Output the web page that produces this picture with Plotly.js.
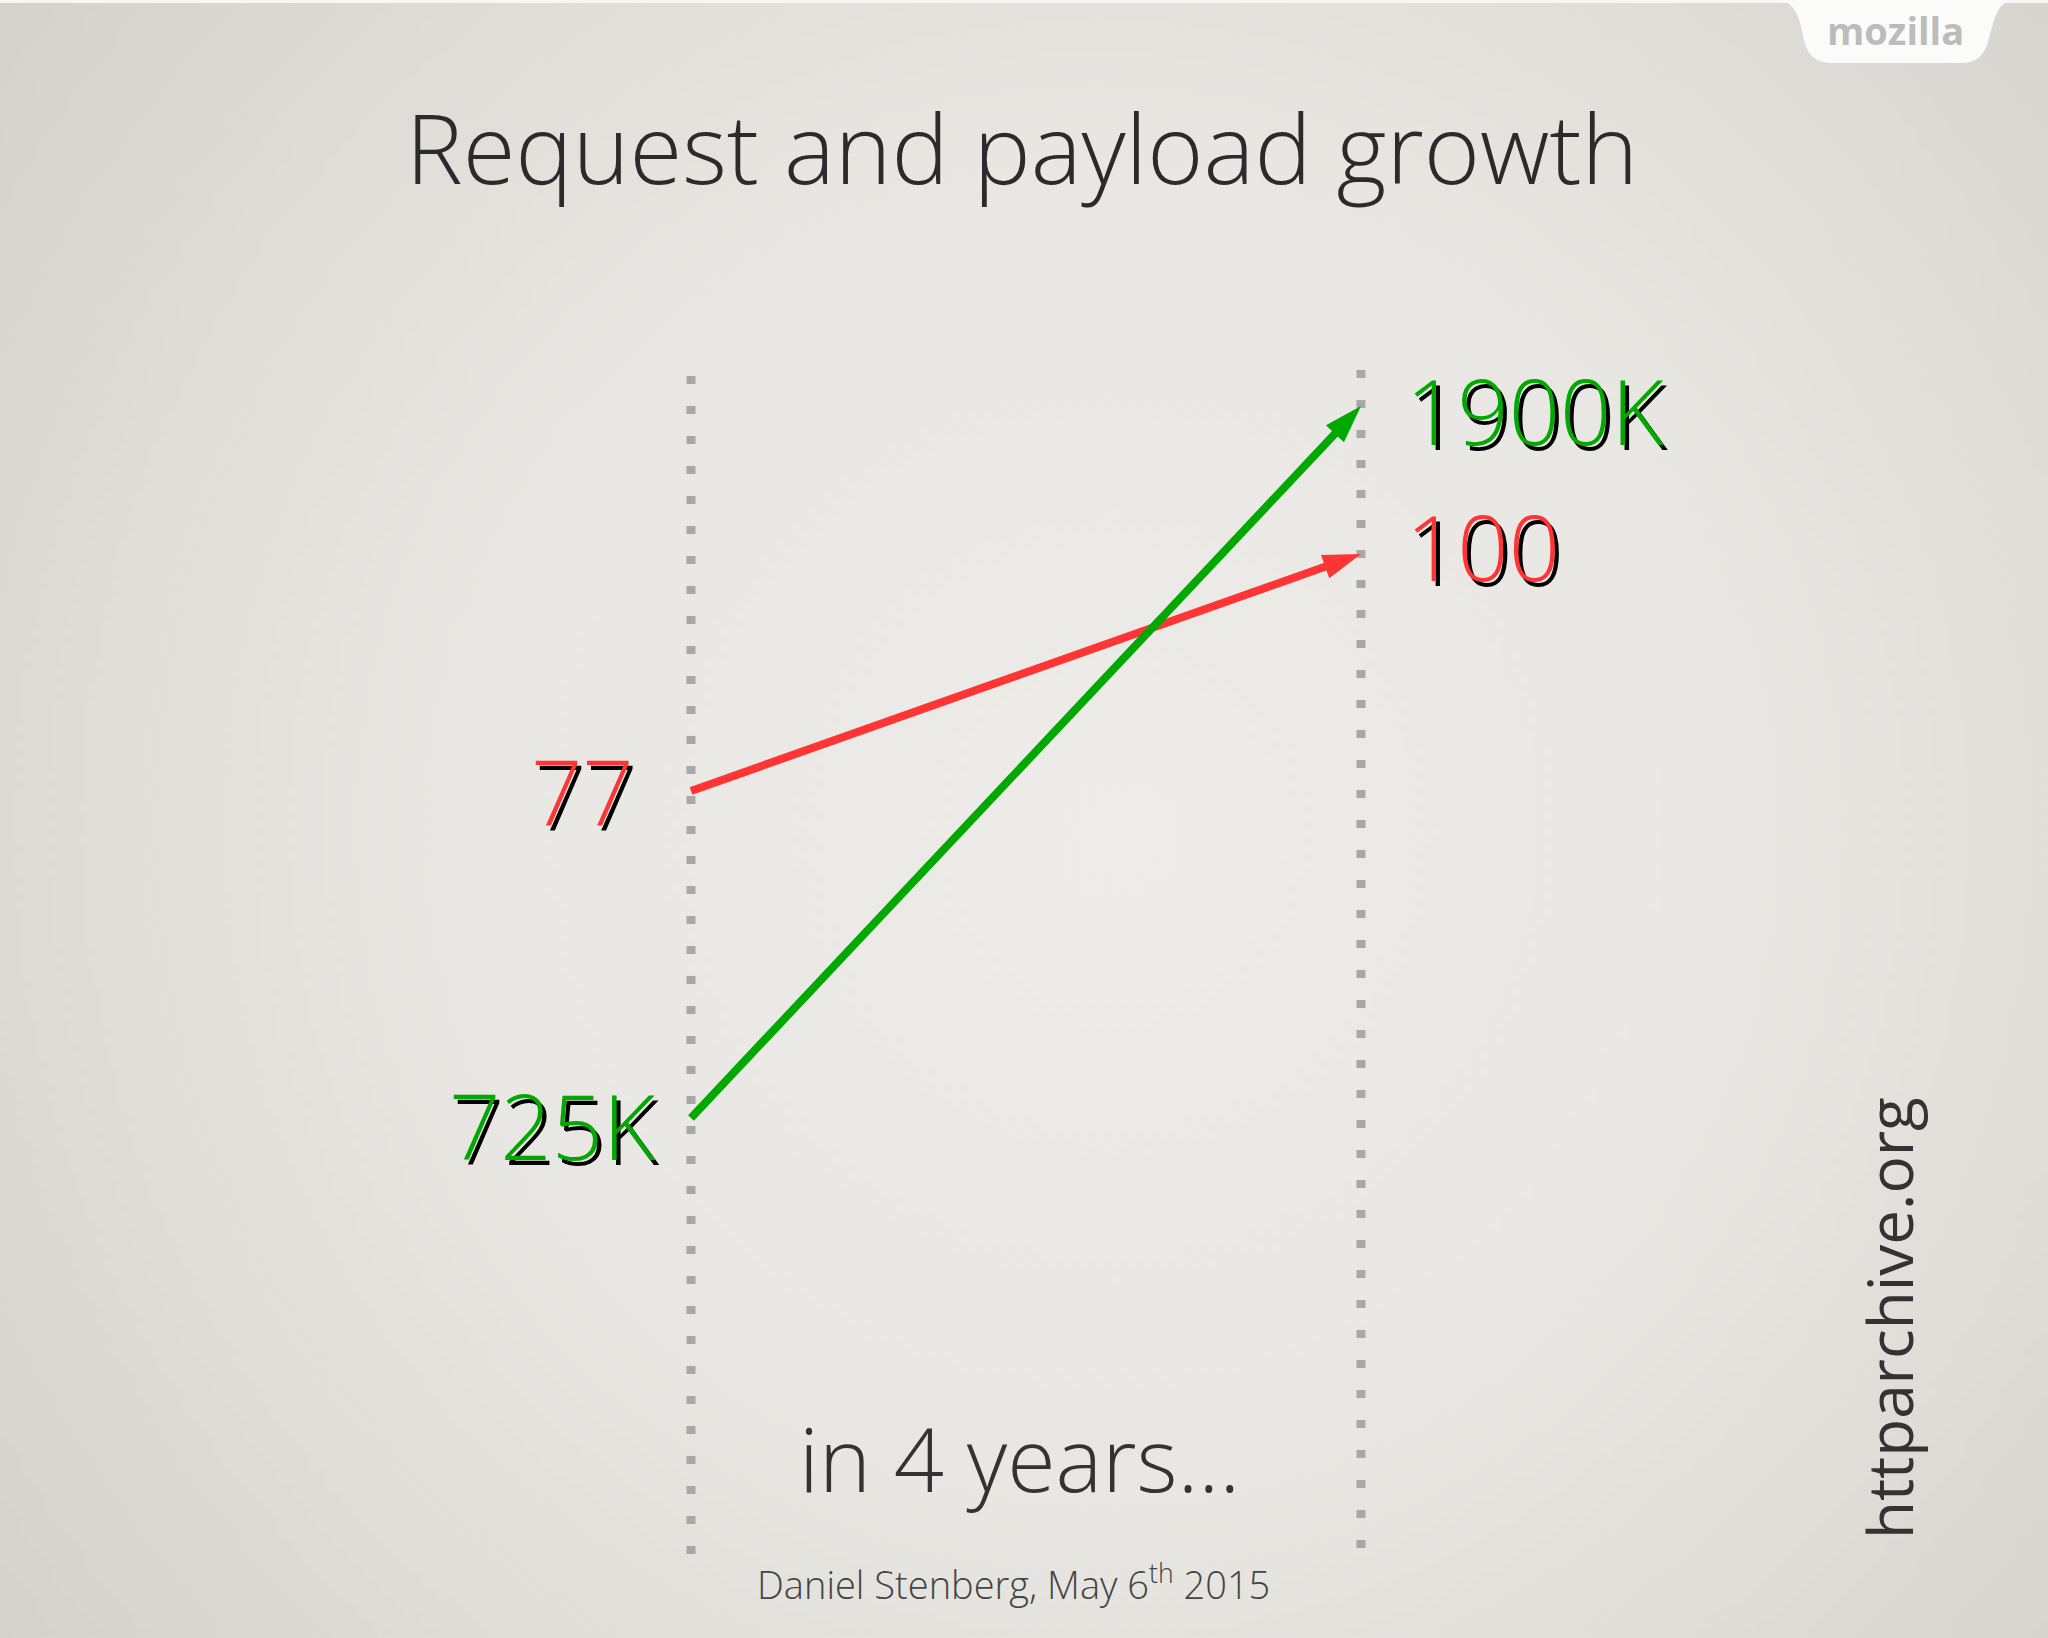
<!DOCTYPE html>
<html><head><meta charset="utf-8">
<script src="https://cdn.plot.ly/plotly-3.0.1.min.js"></script>
<style>html,body{margin:0;padding:0;background:#e3e1dc;overflow:hidden}#chart{width:2048px;height:1638px;}</style>
</head><body><div id="chart"></div>
<script>
// ---- data ----
const years = [0, 4];
const requests = [77, 100];
const payloadK = [725, 1900];
const requestLabels = ['77', '100'];
const payloadLabels = ['725K', '1900K'];
const titleText = 'Request and payload growth';
const subtitleText = 'in 4 years...';
const creditText = 'Daniel Stenberg, May 6<sup>th</sup> 2015';
const sourceText = 'httparchive.org';
const brandText = 'mozilla';

// ---- styling / geometry ----
const W = 2048, H = 1638;
const RED = '#ff3434', GREEN = '#00a800';
const FONT = 'Open Sans, sans-serif';
const px = x => x / W, py = y => 1 - y / H;
// x axis: 0..4 years maps to pixels 691..1361; pad the range so edge lines are not clipped
const X0 = 691, X1 = 1361, XPAD = 0.3;
const pxPerYear = (X1 - X0) / (years[1] - years[0]);

function bgImage() {
  const c = document.createElement('canvas');
  c.width = 512; c.height = 410;
  const g = c.getContext('2d');
  const grad = g.createRadialGradient(280, 210, 10, 270, 205, 360);
  grad.addColorStop(0, '#eeece9');
  grad.addColorStop(0.45, '#e9e7e3');
  grad.addColorStop(1, '#d3d0ca');
  g.fillStyle = grad;
  g.fillRect(0, 0, 512, 410);
  return c.toDataURL('image/png');
}

function pathPx(cmds) {
  return cmds.map(c => c[0] + c.slice(1).map((v, i) => (i % 2 === 0 ? px(v) : py(v)).toFixed(5)).join(',')).join(' ');
}

const arrowMarker = (color) => ({ symbol: ['circle', 'arrow'], size: [0, 40], angleref: 'previous',
                                  color, opacity: 1, line: { width: 0 } });
const traces = [
  { x: years, y: requests, yaxis: 'y', type: 'scatter', mode: 'lines+markers',
    line: { color: RED, width: 8 }, marker: arrowMarker(RED), cliponaxis: false, hoverinfo: 'skip', name: 'Requests' },
  { x: years, y: payloadK, yaxis: 'y2', type: 'scatter', mode: 'lines+markers',
    line: { color: GREEN, width: 8 }, marker: arrowMarker(GREEN), cliponaxis: false, hoverinfo: 'skip', name: 'Payload' }
];

const labelFont = (c) => ({ family: FONT, size: 90, weight: 300, color: c });
function label(x, y, yref, text, color, xanchor, xshift, yshift) {
  return [
    { x, y, xref: 'x', yref, text, showarrow: false, xanchor, yanchor: 'middle',
      xshift: xshift + 4, yshift: yshift - 5, font: labelFont('#000') },
    { x, y, xref: 'x', yref, text, showarrow: false, xanchor, yanchor: 'middle',
      xshift, yshift, font: labelFont(color) }
  ];
}

const annotations = [
  ...label(years[0], requests[0], 'y', requestLabels[0], RED, 'right', -55, 0),
  ...label(years[1], requests[1], 'y', requestLabels[1], RED, 'left', 43, 8),
  ...label(years[0], payloadK[0], 'y2', payloadLabels[0], GREEN, 'right', -33, -7),
  ...label(years[1], payloadK[1], 'y2', payloadLabels[1], GREEN, 'left', 43, -4),
  { x: px(1019), y: py(1458), xref: 'paper', yref: 'paper', text: subtitleText, showarrow: false,
    xanchor: 'center', yanchor: 'middle', font: { family: FONT, size: 88, weight: 300, color: '#333' } },
  { x: px(1013), y: py(1582), xref: 'paper', yref: 'paper', text: creditText, showarrow: false,
    xanchor: 'center', yanchor: 'middle', font: { family: FONT, size: 38, weight: 300, color: '#444' } },
  { x: px(1889), y: py(1318), xref: 'paper', yref: 'paper', text: sourceText, showarrow: false, textangle: -90,
    xanchor: 'center', yanchor: 'middle', font: { family: FONT, size: 62, weight: 400, color: '#333' } },
  { x: px(1895), y: py(30), xref: 'paper', yref: 'paper', text: brandText, showarrow: false,
    xanchor: 'center', yanchor: 'middle', font: { family: FONT, size: 38, weight: 700, color: '#bcbcbc' } }
];

const dotLine = { color: '#a8a8a8', width: 9, dash: '8px,22px' };
const shapes = [
  { type: 'rect', xref: 'paper', yref: 'paper', x0: 0, x1: 1, y0: py(3), y1: 1, fillcolor: '#f7f6f3', line: { width: 0 }, layer: 'below' },
  { type: 'path', xref: 'paper', yref: 'paper', layer: 'below', fillcolor: '#fbfbfa', line: { width: 0 },
    path: pathPx([['M', 1776, 0], ['C', 1796, 0, 1800, 20, 1804, 40], ['C', 1808, 56, 1816, 63, 1834, 63],
                  ['L', 1960, 63], ['C', 1976, 63, 1984, 56, 1988, 42], ['C', 1994, 20, 1998, 0, 2014, 0], ['Z']]) },
  { type: 'line', xref: 'x', yref: 'paper', x0: years[0], x1: years[0], y0: py(1554), y1: py(366), line: dotLine, layer: 'below' },
  { type: 'line', xref: 'x', yref: 'paper', x0: years[1], x1: years[1], y0: py(1548), y1: py(355), line: dotLine, layer: 'below' }
];

const hidden = { showgrid: false, zeroline: false, showticklabels: false, showline: false, ticks: '', fixedrange: true };
const layout = {
  width: W, height: H,
  margin: { l: 0, r: 0, t: 0, b: 0, pad: 0 },
  paper_bgcolor: '#e3e1dc', plot_bgcolor: 'rgba(0,0,0,0)',
  showlegend: false,
  title: { text: titleText, x: px(1022), xanchor: 'center', y: py(150), yanchor: 'middle', yref: 'container',
           font: { family: FONT, size: 96, weight: 300, color: '#2b2b2b' } },
  xaxis: Object.assign({ domain: [px(X0 - XPAD * pxPerYear), px(X1 + XPAD * pxPerYear)],
                         range: [years[0] - XPAD, years[1] + XPAD] }, hidden),
  yaxis: Object.assign({ domain: [py(1554), py(355)], range: [2.95, 119.31] }, hidden),
  yaxis2: Object.assign({ overlaying: 'y', range: [5.5, 1984.2] }, hidden),
  annotations, shapes,
  images: [{ source: bgImage(), xref: 'paper', yref: 'paper', x: 0, y: 1, sizex: 1, sizey: 1,
             sizing: 'stretch', xanchor: 'left', yanchor: 'top', layer: 'below' }]
};

Plotly.newPlot('chart', traces, layout, { staticPlot: true, displayModeBar: false });
</script></body></html>
